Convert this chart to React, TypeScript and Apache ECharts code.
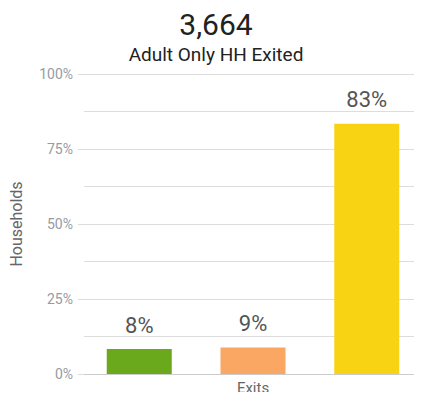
import React, { useEffect, useRef } from "react";
import * as echarts from "echarts";

const titleText = "3,664";
const subtitleText = "Adult Only HH Exited";
const categories = ["Exits"];
const seriesNames = ["Green", "Orange", "Yellow"];
const seriesValues = [8.3, 8.8, 83.4];
const seriesColors = ["#6aa91c", "#f9a762", "#f8d314"];
const yTicks = [0, 25, 50, 75, 100];

export default function App() {
  const ref = useRef<HTMLDivElement>(null);
  useEffect(() => {
    if (!ref.current) return;
    const chart = echarts.init(ref.current, null, { renderer: "svg" });
    chart.setOption({
      animation: false,
      title: [
        {
          text: titleText,
          left: 211,
          top: 4,
          textAlign: "center",
          textStyle: { fontFamily: "Roboto", fontSize: 30, fontWeight: "normal", color: "#222" },
        },
        {
          text: subtitleText,
          left: 211,
          top: 40,
          textAlign: "center",
          textStyle: { fontFamily: "Roboto", fontSize: 19, fontWeight: "normal", color: "#222" },
        },
      ],
      grid: { left: 83, right: 0, top: 74, bottom: 26, containLabel: false },
      xAxis: {
        type: "category",
        data: categories,
        name: "Exits",
        nameLocation: "middle",
        nameGap: 6,
        nameTextStyle: { fontFamily: "Roboto", fontSize: 15, color: "#666", verticalAlign: "top" },
        axisLine: { lineStyle: { color: "#ccc", width: 1 } },
        axisTick: { show: false },
        axisLabel: { show: false },
      },
      yAxis: {
        type: "value",
        min: yTicks[0],
        max: yTicks[yTicks.length - 1],
        interval: 25,
        name: "Households",
        nameLocation: "middle",
        nameGap: 60,
        nameTextStyle: { fontFamily: "Roboto", fontSize: 16, color: "#666" },
        axisLine: { show: false },
        axisTick: { show: true, length: 6, lineStyle: { color: "#ddd" } },
        axisLabel: {
          formatter: "{value}%",
          margin: 11,
          fontFamily: "Roboto",
          fontSize: 14,
          color: "#959ba3",
        },
        splitLine: { show: true, lineStyle: { color: "#ddd" } },
        minorTick: { show: false, splitNumber: 2 },
        minorSplitLine: { show: true, lineStyle: { color: "#ddd" } },
      },
      series: seriesNames.map((name, i) => ({
        name,
        type: "bar",
        data: [seriesValues[i]],
        barWidth: 65,
        barGap: "75%",
        itemStyle: { color: seriesColors[i] },
        label: {
          show: true,
          position: "top",
          distance: 13,
          formatter: (p: any) => Math.round(p.value) + "%",
          fontFamily: "Roboto",
          fontSize: 22,
          color: "#555",
        },
      })),
    });
    return () => chart.dispose();
  }, []);
  return <div ref={ref} style={{ width: 422, height: 400, margin: -8 }} />;
}
